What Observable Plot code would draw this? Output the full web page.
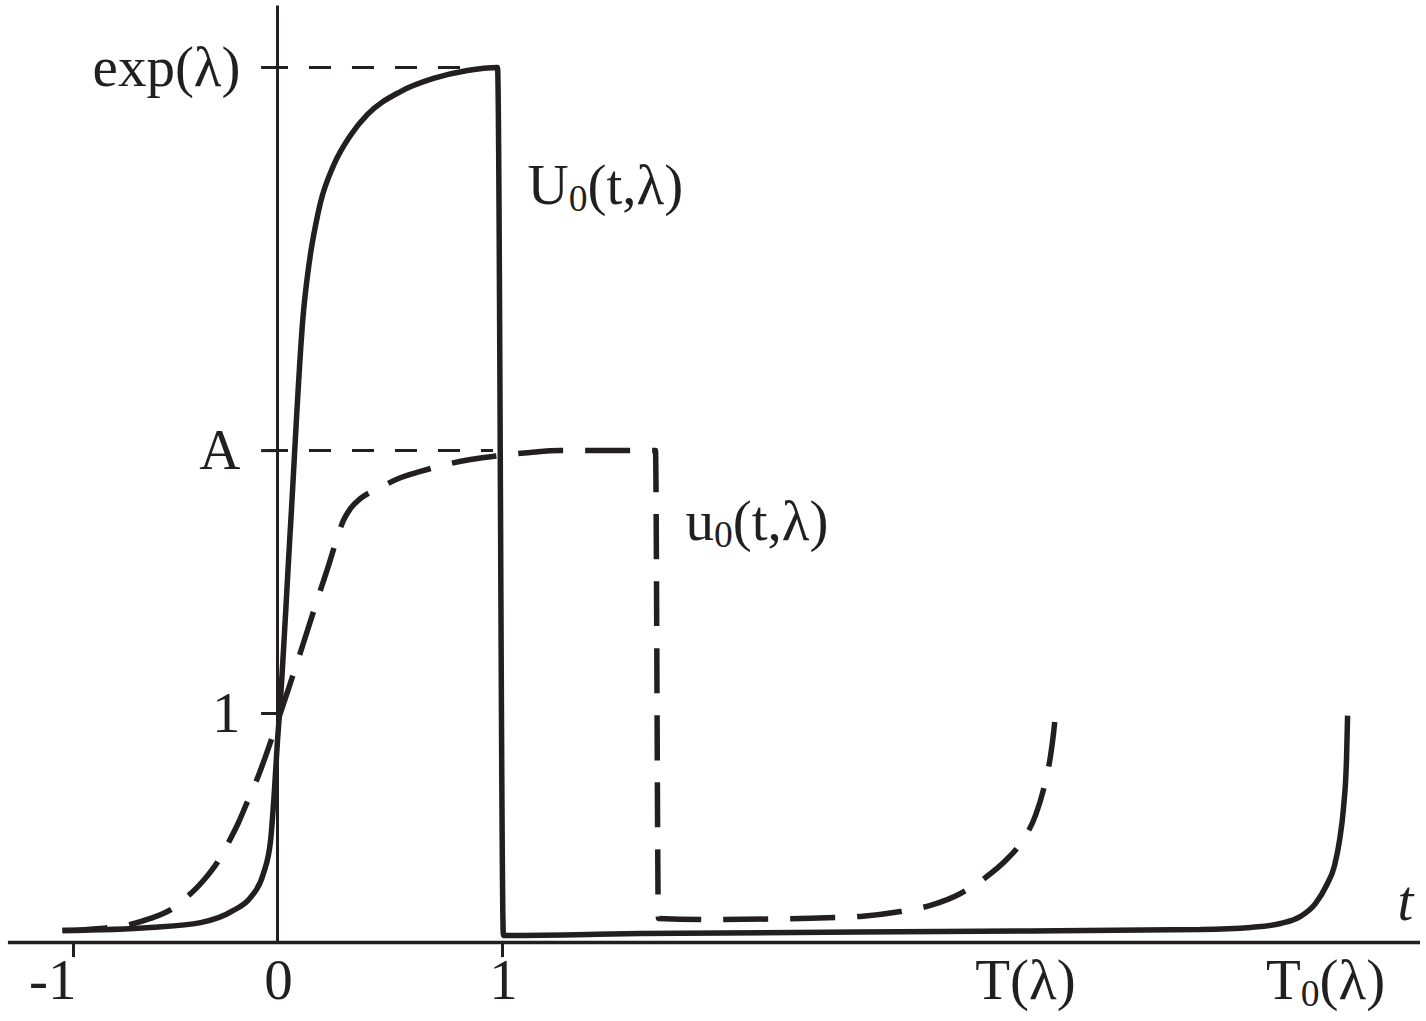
<!DOCTYPE html>
<html>
<head>
<meta charset="utf-8">
<script src="https://cdn.jsdelivr.net/npm/d3@7"></script>
<script src="https://cdn.jsdelivr.net/npm/@observablehq/plot@0.6"></script>
<style>
  html, body { margin: 0; padding: 0; background: #fff; }
  #chart svg { display: block; }
</style>
</head>
<body>
<div id="chart"></div>
<script>
// ---- values (t on x, value on y) ----
const A = 2.148;          // level "A"
const EXP_L = 3.821;      // level "exp(λ)"

// solid curve U0(t,λ)
const U0_t = [-1.054,-0.623,-0.377,-0.216,-0.132,-0.069,-0.034,-0.015,0,0.009,0.058,0.116,0.129,0.147,0.169,0.191,0.249,0.324,0.400,0.547,0.693,0.844,0.978,1.004,1.613,2.947,4.102,4.324,4.458,4.547,4.613,4.662,4.698,4.720,4.738,4.751,4.756];
const U0_v = [0.052,0.066,0.087,0.140,0.197,0.301,0.445,0.664,0.882,1.000,1.821,2.760,2.878,3.009,3.131,3.231,3.393,3.524,3.616,3.716,3.773,3.808,3.821,0.031,0.039,0.048,0.057,0.066,0.083,0.114,0.170,0.249,0.336,0.445,0.590,0.795,0.991];

// dashed curve u0(t,λ)
const u0_t = [-1.054,-0.868,-0.721,-0.623,-0.515,-0.436,-0.363,-0.289,-0.240,-0.191,-0.147,-0.103,-0.059,-0.020,0.018,0.058,0.116,0.173,0.231,0.267,0.293,0.324,0.369,0.449,0.538,0.636,0.747,0.858,0.991,1.124,1.258,1.680,1.693,1.880,2.324,2.591,2.769,2.902,3.036,3.147,3.236,3.311,3.369,3.409,3.436,3.449,3.458];
const u0_v = [0.052,0.061,0.079,0.105,0.148,0.205,0.271,0.358,0.437,0.524,0.616,0.707,0.812,0.913,1.017,1.135,1.310,1.485,1.659,1.773,1.843,1.895,1.939,1.983,2.026,2.057,2.087,2.109,2.127,2.140,2.148,2.148,0.105,0.100,0.105,0.114,0.135,0.162,0.214,0.284,0.358,0.445,0.555,0.686,0.817,0.913,1.000];

// axis extents and ticks
const xAxisExtent = [-1.319, 5.08];
const yAxisTop = 4.09;
const xTickMarks = [-1, 1];
const xTickValues = [-1, 0, 1];
const xTickLabels = ["-1", "0", "1"];
const xSpecialValues = [3.324, 4.658];
const xSpecialLabels = ["T(λ)", "T₀(λ)"];
const yTickValues = [1, A, EXP_L];
const yTickLabels = ["1", "A", "exp(λ)"];
const yGuideValues = [A, EXP_L];

// curve labels (anchor at start of text)
const curveLabelT = [1.111, 1.813];
const curveLabelV = [3.306, 1.838];
const curveLabelText = ["U₀(t,λ)", "u₀(t,λ)"];
const axisTitle = {t: 5.013, v: 0.179, text: "t"};

// ---- build tables ----
const U0 = U0_t.map((t, i) => ({t, v: U0_v[i]}));
const u0 = u0_t.map((t, i) => ({t, v: u0_v[i]}));
const xTicksTbl = xTickValues.map((t, i) => ({t, label: xTickLabels[i]}));
const xSpecialTbl = xSpecialValues.map((t, i) => ({t, label: xSpecialLabels[i]}));
const yTicksTbl = yTickValues.map((v, i) => ({v, label: yTickLabels[i]}));
const curveLabels = curveLabelT.map((t, i) => ({t, v: curveLabelV[i], label: curveLabelText[i]}));

const INK = "#231f20";
const FONT = "Liberation Serif, Times New Roman, serif";
const FS = 57;

// the schematic's negative half-axis is drawn slightly compressed
const NEG_SHRINK = 204 / 225;

const chart = Plot.plot({
  width: 1426,
  height: 1021,
  margin: 0,
  style: {background: "#fff", fontFamily: FONT, color: INK},
  x: {transform: t => (t < 0 ? t * NEG_SHRINK : t), domain: [-1.2311, 5.1067], axis: null},
  y: {domain: [0, EXP_L], range: [942, 67], axis: null},
  marks: [
    // axes
    Plot.ruleY([0], {x1: xAxisExtent[0], x2: xAxisExtent[1], stroke: INK, strokeWidth: 3.5}),
    Plot.ruleX([0], {y1: 0, y2: yAxisTop, stroke: INK, strokeWidth: 3}),
    // x tick marks (below the axis)
    Plot.ruleX(xTickMarks, {y1: 0, y2: -0.066, stroke: INK, strokeWidth: 3}),
    // y tick marks
    Plot.ruleY(yTickValues, {x1: -0.078, x2: 0, stroke: INK, strokeWidth: 3}),
    // dashed guide lines at A and exp(λ)
    Plot.ruleY(yGuideValues, {x1: -0.054, x2: 0.96, stroke: INK, strokeWidth: 3, strokeDasharray: "22,21"}),
    // curves
    Plot.line(u0, {x: "t", y: "v", stroke: INK, strokeWidth: 5.5, strokeDasharray: "45,22", strokeLinecap: "butt", strokeLinejoin: "miter", curve: "monotone-x"}),
    Plot.line(U0, {x: "t", y: "v", stroke: INK, strokeWidth: 5.5, strokeLinecap: "butt", strokeLinejoin: "miter", curve: "monotone-x"}),
    // y labels
    Plot.text(yTicksTbl, {x: 0, y: "v", text: "label", textAnchor: "end", lineAnchor: "middle", dx: -37, fontSize: FS, fill: INK}),
    // x labels
    Plot.text(xTicksTbl.filter(d => d.t < 0), {x: "t", y: 0, text: "label", textAnchor: "end", lineAnchor: "middle", dx: 3, dy: 38, fontSize: FS, fill: INK}),
    Plot.text(xTicksTbl.filter(d => d.t >= 0), {x: "t", y: 0, text: "label", textAnchor: "middle", lineAnchor: "middle", dx: 1, dy: 38, fontSize: FS, fill: INK}),
    Plot.text(xSpecialTbl, {x: "t", y: 0, text: "label", textAnchor: "middle", lineAnchor: "middle", dy: 38, fontSize: FS, fill: INK}),
    // curve labels
    Plot.text(curveLabels, {x: "t", y: "v", text: "label", textAnchor: "start", lineAnchor: "middle", fontSize: FS, fill: INK}),
    // axis title t
    Plot.text([axisTitle], {x: "t", y: "v", text: "text", textAnchor: "middle", lineAnchor: "middle", fontSize: FS, fontStyle: "italic", fill: INK})
  ]
});

// render subscripts (₀) as real subscript tspans
chart.querySelectorAll("text").forEach(el => {
  const s = el.textContent;
  if (!s.includes("₀")) return;
  const i = s.indexOf("₀");
  const before = s.slice(0, i), after = s.slice(i + 1);
  while (el.firstChild) el.removeChild(el.firstChild);
  const NS = "http://www.w3.org/2000/svg";
  el.appendChild(document.createTextNode(before));
  const sub = document.createElementNS(NS, "tspan");
  sub.setAttribute("font-size", "0.66em");
  sub.setAttribute("dy", "0.2em");
  sub.textContent = "0";
  el.appendChild(sub);
  const rest = document.createElementNS(NS, "tspan");
  rest.setAttribute("dy", "-0.132em");
  rest.textContent = after;
  el.appendChild(rest);
});

document.getElementById("chart").appendChild(chart);
</script>
</body>
</html>
